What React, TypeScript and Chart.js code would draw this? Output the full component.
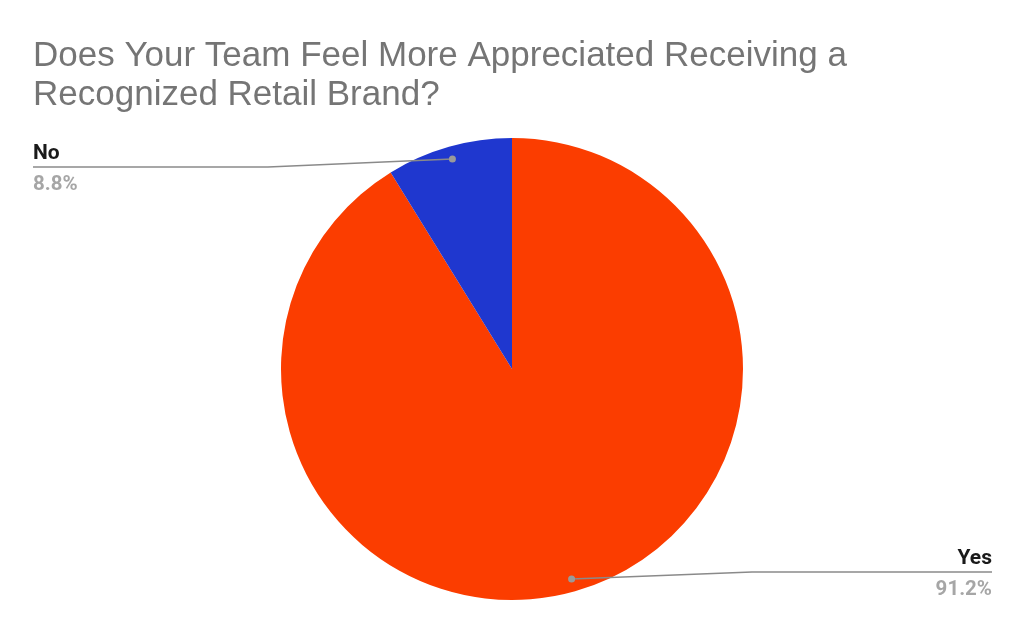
import React, { useEffect, useRef } from "react";
import { Chart, registerables } from "chart.js";

Chart.register(...registerables);

const TITLE_LINES = ["Does Your Team Feel More Appreciated Receiving a", "Recognized Retail Brand?"];
const CATEGORIES = ["Yes", "No"];
const VALUES = [91.2, 8.8];
const COLORS = ["#FB3D00", "#1F37CF"];

const overlayPlugin = {
  id: "overlay",
  afterDraw(chart: any) {
    const ctx = chart.ctx as CanvasRenderingContext2D;
    ctx.save();
    // Title
    ctx.fillStyle = "#757575";
    ctx.font = "35px 'Liberation Sans', Arial, sans-serif";
    ctx.textBaseline = "alphabetic";
    ctx.textAlign = "left";
    ctx.fillText(TITLE_LINES[0], 33, 66);
    ctx.fillText(TITLE_LINES[1], 33, 105);

    const meta = chart.getDatasetMeta(0);
    const total = VALUES.reduce((a, b) => a + b, 0);
    meta.data.forEach((arc: any, i: number) => {
      const { x, y, startAngle, endAngle, outerRadius } = arc.getProps(
        ["x", "y", "startAngle", "endAngle", "outerRadius"],
        true
      );
      const mid = (startAngle + endAngle) / 2;
      const r = outerRadius * 0.945;
      const px = x + Math.cos(mid) * r;
      const py = y + Math.sin(mid) * r;
      const isLeft = Math.cos(mid) < 0;
      const lineY = isLeft ? py + 8 : py - 7;
      const elbowX = isLeft ? 268 : 752;
      const endX = isLeft ? 33 : 992;
      ctx.strokeStyle = "#8a8a8a";
      ctx.lineWidth = 1.5;
      ctx.beginPath();
      ctx.moveTo(px, py);
      ctx.lineTo(elbowX, lineY);
      ctx.lineTo(endX, lineY);
      ctx.stroke();
      ctx.fillStyle = "#9a9a9a";
      ctx.beginPath();
      ctx.arc(px, py, 3.5, 0, Math.PI * 2);
      ctx.fill();

      ctx.textAlign = isLeft ? "left" : "right";
      ctx.font = "bold 21px Roboto, 'Noto Sans', sans-serif";
      ctx.fillStyle = "#1a1a1a";
      ctx.fillText(CATEGORIES[i], endX, lineY - 8);
      ctx.font = "bold 20.5px Roboto, 'Noto Sans', sans-serif";
      ctx.fillStyle = "#a6a6a6";
      const pct = ((VALUES[i] / total) * 100).toFixed(1) + "%";
      ctx.fillText(pct, endX, lineY + 23);
    });
    ctx.restore();
  },
};

export default function App() {
  const ref = useRef<HTMLCanvasElement>(null);
  useEffect(() => {
    if (!ref.current) return;
    const chart = new Chart(ref.current, {
      type: "pie",
      data: {
        labels: CATEGORIES,
        datasets: [
          {
            data: VALUES,
            backgroundColor: COLORS,
            borderWidth: 0,
          },
        ],
      },
      options: {
        responsive: false,
        animation: false,
        layout: { padding: { top: 138, bottom: 32, left: 0, right: 0 } },
        plugins: {
          legend: { display: false },
          title: { display: false },
          tooltip: { enabled: false },
        },
      },
      plugins: [overlayPlugin],
    });
    return () => chart.destroy();
  }, []);
  return (
    <div style={{ position: "fixed", left: 0, top: 0, width: 1024, height: 632, background: "#fff" }}>
      <canvas ref={ref} width={1024} height={632} />
    </div>
  );
}
